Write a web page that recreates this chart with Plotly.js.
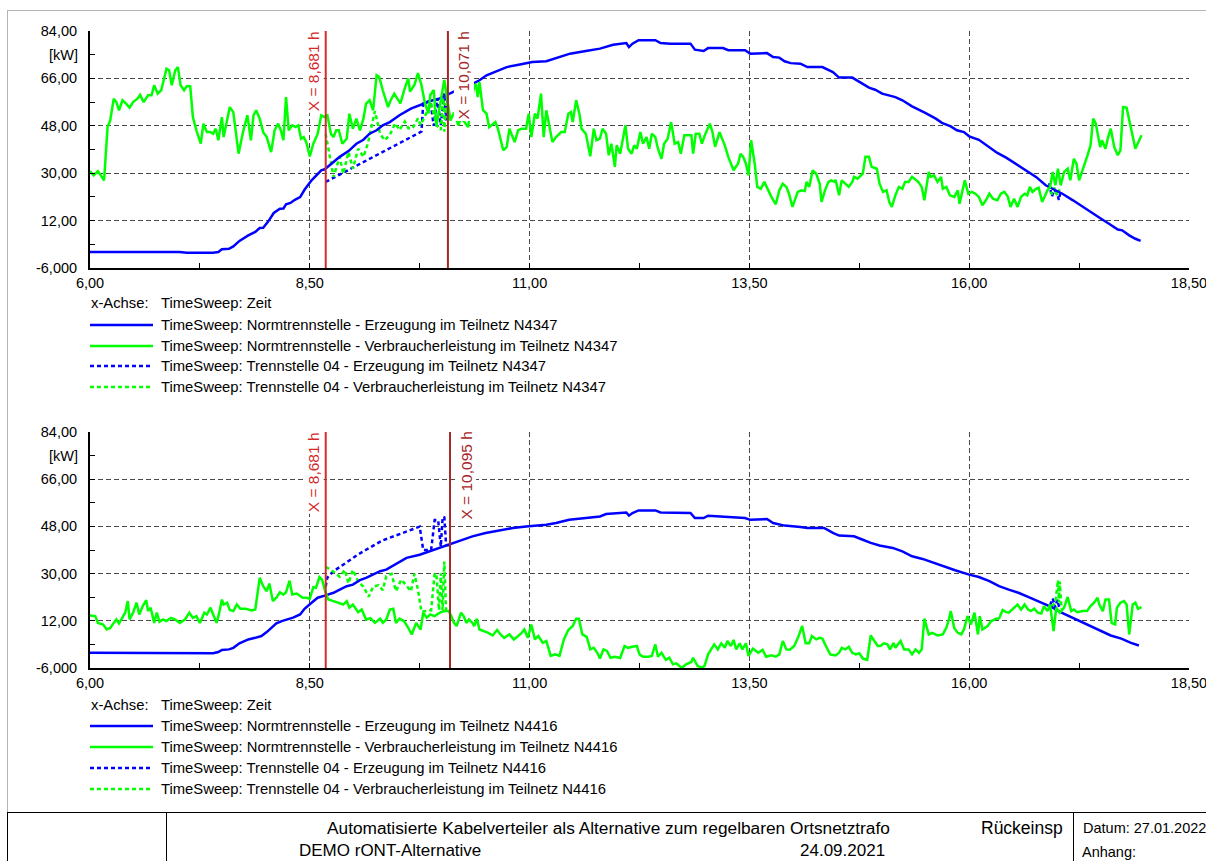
<!DOCTYPE html>
<html>
<head>
<meta charset="utf-8">
<script src="https://cdn.plot.ly/plotly-3.0.1.min.js"></script>
<style>
  html, body { margin: 0; padding: 0; background: #ffffff; }
  #chart { width: 1206px; height: 861px; }
</style>
</head>
<body>
<div id="chart"></div>
<script>
// ---------- axis ticks ----------
const xTickVals = [6, 8.5, 11, 13.5, 16, 18.5];
const xTickText = ['6,00', '8,50', '11,00', '13,50', '16,00', '18,50'];
const yTickVals = [-6, 12, 30, 48, 66, 84];
const yTickText = ['-6,000', '12,00', '30,00', '48,00', '66,00', '84,00'];

// ---------- legend / title block texts ----------
const xAxisCaption = ['x-Achse:', 'TimeSweep: Zeit'];
const namesTop = [
  'TimeSweep: Normtrennstelle - Erzeugung im Teilnetz N4347',
  'TimeSweep: Normtrennstelle - Verbraucherleistung im Teilnetz N4347',
  'TimeSweep: Trennstelle 04 - Erzeugung im Teilnetz N4347',
  'TimeSweep: Trennstelle 04 - Verbraucherleistung im Teilnetz N4347'
];
const namesBottom = [
  'TimeSweep: Normtrennstelle - Erzeugung im Teilnetz N4416',
  'TimeSweep: Normtrennstelle - Verbraucherleistung im Teilnetz N4416',
  'TimeSweep: Trennstelle 04 - Erzeugung im Teilnetz N4416',
  'TimeSweep: Trennstelle 04 - Verbraucherleistung im Teilnetz N4416'
];
const titleRow1 = ['Automatisierte Kabelverteiler als Alternative zum regelbaren Ortsnetztrafo', 'Rückeinsp', 'Datum: 27.01.2022'];
const titleRow2 = ['DEMO rONT-Alternative', '24.09.2021', 'Anhang:'];

// ---------- cursor positions [h] ----------
const cursorsTop = [8.681, 10.071];
const cursorsBottom = [8.681, 10.095];

// ---------- Teilnetz N4347: Normtrennstelle, Erzeugung [kW] ----------
const genTopT = [6.00,7.02,7.10,7.40,7.46,7.50,7.58,7.63,7.70,7.80,7.88,7.93,7.97,8.03,8.09,8.16,8.20,8.23,8.28,8.33,8.39,8.44,8.52,8.58,8.63,8.67,8.71,8.77,8.84,8.94,9.03,9.11,9.18,9.26,9.33,9.41,9.52,9.65,9.79,9.88,9.98,10.13,10.22,10.32,10.43,10.51,10.60,10.74,10.89,11.03,11.19,11.31,11.46,11.64,11.80,11.95,12.10,12.13,12.17,12.24,12.43,12.49,12.60,12.83,12.88,12.98,13.03,13.20,13.26,13.45,13.51,13.70,13.77,13.84,13.90,13.97,14.08,14.16,14.33,14.45,14.52,14.67,14.75,14.86,14.93,15.01,15.16,15.24,15.35,15.43,15.50,15.62,15.69,15.79,15.86,15.94,16.00,16.11,16.23,16.32,16.42,16.53,16.64,16.76,16.87,16.95,17.06,17.18,17.29,17.40,17.50,17.59,17.69,17.74,17.82,17.89,17.95];
const genTopP = [0.1,0.1,-0.2,-0.2,0.1,1.1,1.3,2.2,4.3,6.4,7.7,9.2,9.3,11.8,14.9,16.5,16.6,18.2,18.7,19.9,20.9,23.7,27.3,29.6,31.1,31.5,32.6,34.0,36.2,38.4,41.2,42.7,45.0,46.3,48.2,49.4,52.0,54.5,56.5,57.5,58.4,61.0,62.3,63.4,65.3,67.2,68.4,70.3,71.3,72.2,72.5,73.9,75.4,76.4,77.3,78.8,79.4,77.9,79.2,80.5,80.5,79.4,79.2,79.2,76.9,76.4,77.5,77.5,76.7,76.7,75.4,75.6,74.1,73.9,72.5,71.8,71.6,70.3,70.3,68.4,66.3,66.3,64.6,62.5,61.7,60.2,58.9,57.7,55.4,53.9,52.9,50.7,49.1,47.8,46.3,45.6,44.0,42.7,39.9,37.7,35.9,33.6,31.1,28.6,25.4,24.1,22.2,19.7,17.2,14.9,12.7,10.8,8.6,8.3,6.4,5.1,4.3];

// ---------- Teilnetz N4347: Normtrennstelle, Verbraucherleistung [kW] ----------
const loadTopT = [6.00,6.04,6.09,6.12,6.16,6.20,6.23,6.27,6.30,6.33,6.37,6.41,6.45,6.49,6.54,6.57,6.61,6.66,6.70,6.73,6.77,6.81,6.87,6.90,6.93,6.97,7.00,7.03,7.07,7.10,7.14,7.17,7.21,7.26,7.29,7.33,7.37,7.40,7.43,7.46,7.50,7.52,7.55,7.59,7.63,7.69,7.74,7.79,7.83,7.86,7.89,7.93,7.97,8.01,8.06,8.10,8.14,8.17,8.20,8.23,8.26,8.30,8.34,8.37,8.40,8.43,8.46,8.50,8.54,8.59,8.63,8.67,8.70,8.74,8.77,8.80,8.83,8.87,8.92,8.95,8.99,9.03,9.07,9.11,9.14,9.18,9.22,9.26,9.29,9.33,9.39,9.42,9.46,9.50,9.53,9.58,9.62,9.64,9.69,9.73,9.77,9.81,9.85,9.87,9.91,9.94,9.98,10.01,10.03,10.06,10.10,10.14,10.19,10.22,10.26,10.30,10.36,10.39,10.41,10.43,10.47,10.51,10.54,10.58,10.61,10.64,10.70,10.74,10.77,10.83,10.87,10.91,10.96,10.99,11.02,11.06,11.09,11.13,11.16,11.19,11.23,11.26,11.30,11.36,11.40,11.44,11.47,11.49,11.53,11.57,11.59,11.64,11.69,11.73,11.76,11.80,11.83,11.87,11.90,11.93,11.97,11.99,12.03,12.05,12.09,12.12,12.16,12.19,12.22,12.26,12.29,12.33,12.36,12.39,12.43,12.46,12.50,12.53,12.57,12.61,12.65,12.69,12.72,12.76,12.80,12.84,12.86,12.89,12.93,12.96,13.00,13.05,13.08,13.11,13.16,13.22,13.26,13.32,13.37,13.40,13.43,13.46,13.49,13.52,13.56,13.59,13.63,13.67,13.75,13.80,13.84,13.88,13.92,13.95,13.99,14.05,14.09,14.13,14.15,14.18,14.22,14.26,14.30,14.32,14.36,14.40,14.43,14.47,14.48,14.52,14.55,14.59,14.63,14.67,14.69,14.73,14.79,14.82,14.86,14.89,14.95,14.98,15.02,15.06,15.09,15.12,15.16,15.20,15.24,15.27,15.31,15.35,15.39,15.42,15.46,15.49,15.54,15.56,15.60,15.64,15.68,15.70,15.74,15.78,15.83,15.87,15.89,15.92,15.95,15.99,16.03,16.07,16.11,16.15,16.19,16.23,16.27,16.32,16.36,16.40,16.44,16.47,16.51,16.55,16.59,16.63,16.66,16.69,16.72,16.76,16.79,16.83,16.89,16.92,16.95,16.98,17.01,17.04,17.08,17.12,17.15,17.19,17.22,17.25,17.29,17.34,17.38,17.41,17.44,17.49,17.51,17.55,17.58,17.61,17.65,17.69,17.72,17.75,17.79,17.84,17.89,17.96];
const loadTopP = [30.8,29.2,30.8,29.5,27.3,47.5,50.0,58.3,57.0,53.9,57.7,56.4,54.9,57.0,58.3,59.7,57.0,59.6,59.6,63.4,60.2,61.5,69.7,69.1,63.4,69.1,70.3,63.4,61.5,63.0,63.0,51.3,46.3,41.2,48.8,45.6,45.6,45.0,46.9,42.5,51.3,43.7,48.2,55.1,53.2,37.4,45.6,52.0,42.5,52.0,53.9,50.7,45.6,43.7,38.0,46.3,48.8,46.3,42.5,58.9,46.3,48.2,47.5,48.2,43.1,43.7,41.8,36.4,41.2,45.0,52.0,51.3,52.0,45.0,43.7,46.3,46.3,41.2,43.1,52.6,46.9,50.7,46.3,50.7,56.4,57.7,53.9,67.2,66.5,61.5,55.1,57.7,60.2,58.3,56.5,62.2,66.0,61.0,63.5,68.0,63.5,56.5,52.7,59.7,61.6,47.7,56.5,61.6,65.4,59.0,50.0,53.0,48.2,51.3,49.4,47.5,61.5,64.0,58.9,64.6,53.9,52.6,47.5,48.8,49.4,46.9,38.7,40.0,46.9,41.8,46.3,46.9,46.9,52.6,43.7,52.6,50.7,60.2,43.7,53.9,47.5,41.8,43.7,45.6,45.6,52.6,53.2,49.4,57.7,52.0,46.9,45.0,36.4,46.9,42.5,43.1,46.9,45.0,36.8,41.2,32.4,40.6,37.4,41.2,48.2,39.3,37.4,40.6,39.3,45.6,41.2,43.7,39.3,45.0,43.7,39.3,35.5,41.2,43.1,49.4,41.2,41.8,37.4,44.4,44.4,44.4,37.4,45.0,45.0,41.2,45.0,48.8,45.6,40.0,45.6,40.6,36.2,31.1,33.6,37.4,36.2,33.6,29.2,42.5,33.6,24.8,24.1,26.7,21.0,18.2,23.5,26.0,24.8,22.2,17.2,22.9,23.5,23.2,26.7,24.8,31.1,29.8,26.0,19.1,23.5,26.7,27.3,26.7,27.5,21.6,27.3,26.0,24.8,26.7,28.6,27.9,29.8,36.2,36.2,32.4,31.7,26.0,22.9,23.5,19.1,17.2,21.6,24.8,24.1,26.7,26.7,28.6,27.3,26.7,24.8,19.7,30.5,28.6,29.2,26.7,28.6,24.1,24.8,21.6,21.0,23.5,18.4,22.9,27.3,22.2,22.9,22.2,21.0,17.8,19.7,22.2,20.3,19.7,22.2,22.9,21.0,17.2,20.3,17.2,21.0,22.2,21.6,24.8,22.9,24.1,24.5,19.1,23.5,24.8,30.5,25.4,31.7,25.4,30.5,31.7,27.3,35.5,33.6,27.3,31.1,36.2,40.6,50.7,48.8,39.9,42.5,39.3,43.7,46.9,39.9,36.8,38.7,55.1,54.9,46.9,39.3,44.4];

// ---------- Teilnetz N4347: Trennstelle 04 (null = no value) ----------
const altGenTopT = [8.68,8.80,8.90,9.00,9.10,9.20,9.30,9.40,9.50,9.60,9.70,9.77,9.79,9.87,9.91,9.95,9.99,10.03,10.05,10.07,null,16.91,16.94,16.97,17.00,17.02,17.04];
const altGenTopP = [26.7,28.8,30.5,32.2,34.0,35.8,37.6,39.3,41.0,42.8,44.5,45.8,56.5,57.6,48.0,58.4,48.3,60.3,50.0,60.8,null,26.2,21.1,23.6,22.4,19.8,23.3];
const altLoadTopT = [8.68,8.71,8.77,8.84,8.88,8.94,8.99,9.05,9.11,9.16,9.24,9.30,9.35,9.41,9.47,9.52,9.58,9.62,9.67,9.73,9.76,9.88,9.94,9.99,10.02,10.03,10.05,10.07,null,16.90,16.94,16.97,17.00,17.03];
const altLoadTopP = [45.0,40.0,28.6,36.2,29.8,38.0,31.7,39.3,36.2,41.2,53.5,45.0,42.5,44.5,48.9,46.4,49.6,47.1,47.1,50.8,48.3,56.5,48.3,46.4,59.7,45.8,56.5,52.0,null,25.5,22.0,24.5,21.5,24.0];

// ---------- Teilnetz N4416: Normtrennstelle, Erzeugung [kW] ----------
const genBotT = [6.00,7.02,7.10,7.40,7.46,7.50,7.58,7.63,7.70,7.80,7.88,7.95,8.01,8.06,8.12,8.18,8.23,8.31,8.39,8.44,8.52,8.59,8.67,8.77,8.84,8.92,8.99,9.07,9.14,9.22,9.30,9.37,9.45,9.52,9.60,9.75,9.90,10.05,10.20,10.35,10.50,10.66,10.81,10.96,11.11,11.19,11.30,11.45,11.64,11.80,11.87,12.10,12.13,12.17,12.24,12.43,12.49,12.83,12.88,12.98,13.03,13.45,13.51,13.70,13.77,13.90,14.08,14.16,14.35,14.45,14.52,14.69,14.79,14.88,14.98,15.13,15.24,15.35,15.47,15.62,15.71,15.84,16.00,16.11,16.23,16.34,16.45,16.56,16.67,16.83,16.95,17.05,17.17,17.28,17.39,17.50,17.61,17.73,17.84,17.93];
const genBotP = [-0.2,-0.2,-0.4,-0.4,0.1,0.9,1.1,1.7,3.4,4.9,5.5,6.2,7.7,9.3,11.0,11.9,12.3,13.2,14.4,16.6,18.9,20.8,21.6,22.7,23.9,25.2,25.8,27.5,28.4,29.6,30.9,31.5,33.0,34.3,36.0,37.2,38.9,40.7,42.3,44.2,45.5,46.5,47.4,48.0,48.3,48.6,49.3,50.5,51.2,51.8,52.7,53.3,52.1,53.1,54.1,54.1,53.3,53.1,51.2,51.2,52.1,51.2,50.5,50.8,49.3,48.3,47.8,47.4,47.4,45.5,44.5,44.2,42.9,41.7,40.7,39.8,38.5,36.6,35.6,33.8,32.8,31.3,29.6,28.7,27.1,25.2,23.9,22.7,21.1,18.9,17.0,15.1,13.2,11.5,10.0,8.1,6.4,5.2,3.6,2.6];

// ---------- Teilnetz N4416: Normtrennstelle, Verbraucherleistung [kW] ----------
const loadBotT = [6.00,6.06,6.09,6.15,6.19,6.23,6.27,6.30,6.33,6.37,6.40,6.43,6.45,6.49,6.53,6.56,6.60,6.64,6.66,6.69,6.73,6.76,6.79,6.83,6.87,6.92,6.97,7.02,7.08,7.13,7.17,7.21,7.25,7.30,7.33,7.37,7.41,7.44,7.47,7.50,7.52,7.56,7.59,7.63,7.67,7.71,7.77,7.84,7.88,7.93,7.97,8.01,8.04,8.08,8.12,8.16,8.20,8.23,8.27,8.30,8.35,8.39,8.42,8.46,8.50,8.54,8.57,8.61,8.64,8.68,8.71,8.77,8.82,8.88,8.92,8.95,8.99,9.05,9.09,9.14,9.19,9.24,9.30,9.33,9.37,9.41,9.45,9.48,9.52,9.57,9.62,9.66,9.71,9.76,9.79,9.83,9.87,9.92,9.96,9.98,10.03,10.08,10.11,10.14,10.17,10.22,10.25,10.28,10.31,10.35,10.37,10.40,10.43,10.48,10.53,10.58,10.63,10.67,10.71,10.77,10.82,10.87,10.91,10.94,10.98,11.02,11.06,11.10,11.15,11.19,11.24,11.29,11.34,11.39,11.44,11.49,11.53,11.56,11.60,11.65,11.69,11.73,11.77,11.80,11.84,11.88,11.92,11.97,12.03,12.08,12.12,12.17,12.22,12.25,12.29,12.35,12.39,12.43,12.46,12.50,12.55,12.59,12.63,12.67,12.73,12.78,12.84,12.86,12.91,12.96,12.99,13.03,13.07,13.10,13.14,13.18,13.22,13.25,13.29,13.32,13.35,13.39,13.42,13.46,13.49,13.54,13.60,13.65,13.69,13.75,13.80,13.84,13.88,13.92,13.96,14.01,14.06,14.10,14.14,14.18,14.21,14.26,14.30,14.33,14.37,14.42,14.48,14.52,14.55,14.59,14.63,14.67,14.71,14.75,14.79,14.84,14.88,14.92,14.96,14.99,15.03,15.07,15.10,15.14,15.16,15.22,15.26,15.31,15.35,15.39,15.43,15.46,15.49,15.54,15.58,15.64,15.70,15.74,15.77,15.79,15.83,15.87,15.91,15.94,15.98,16.02,16.06,16.10,16.12,16.15,16.21,16.25,16.31,16.34,16.38,16.42,16.45,16.49,16.55,16.59,16.63,16.67,16.70,16.74,16.78,16.82,16.85,16.89,16.92,16.96,16.99,17.03,17.08,17.12,17.16,17.19,17.23,17.29,17.34,17.38,17.42,17.46,17.48,17.52,17.55,17.59,17.62,17.66,17.68,17.72,17.76,17.79,17.82,17.86,17.89,17.92,17.96];
const loadBotP = [14.0,13.8,11.2,10.6,8.7,9.3,11.2,12.5,11.0,13.1,15.1,19.5,12.5,15.1,18.9,14.4,17.6,19.9,15.7,17.0,11.2,15.1,11.6,12.5,11.9,13.1,12.5,11.2,12.5,15.1,13.1,13.8,11.2,15.1,14.4,17.0,13.8,11.2,15.1,20.1,18.2,18.9,16.1,15.7,18.2,16.6,16.6,15.9,16.3,28.4,25.2,23.3,26.2,19.5,20.8,22.9,22.0,22.9,27.3,22.0,22.4,21.4,20.8,20.8,20.4,24.8,24.6,28.7,27.7,22.7,20.1,19.5,18.9,18.2,19.5,17.0,18.2,15.3,16.3,12.5,13.0,11.2,12.8,11.2,12.5,16.3,16.6,11.2,12.8,11.9,9.3,6.8,11.2,8.7,15.1,13.2,14.4,13.8,14.7,15.1,15.7,15.7,13.8,11.2,10.0,15.1,13.8,11.2,12.5,11.2,10.0,12.8,8.7,8.1,7.4,6.4,8.5,6.8,5.5,6.8,4.9,6.2,7.4,8.7,5.5,10.6,4.9,6.2,3.6,4.3,-1.4,-0.8,-1.4,4.9,8.5,10.0,12.8,12.8,6.8,5.9,1.1,1.7,-0.2,-2.4,1.1,0.5,-2.1,-1.7,-2.2,2.4,1.7,2.1,2.4,-0.8,-1.7,-1.7,-1.4,3.0,-1.7,-0.2,-2.9,-2.1,-4.6,-4.2,-6.0,-4.6,-3.7,-2.1,-5.2,-5.9,-5.2,-0.8,1.7,3.0,1.1,3.4,1.7,4.3,2.4,4.7,1.1,3.4,1.1,3.4,-1.4,1.4,-0.2,0.9,-1.7,-1.2,-1.7,-0.8,4.3,1.1,1.0,2.4,6.2,10.0,3.4,3.4,6.2,4.9,5.5,5.2,2.4,-0.8,-1.2,-0.2,1.7,1.1,2.1,-0.2,-0.8,-0.4,-2.4,-2.9,6.4,4.3,2.4,2.4,3.4,3.0,1.1,3.6,1.7,4.3,1.1,1.1,-0.8,1.1,-0.2,1.1,12.8,6.8,7.4,6.4,6.8,9.3,12.5,15.7,9.3,7.4,6.8,8.7,13.8,10.6,15.1,6.8,13.8,8.7,10.0,11.9,12.8,12.9,16.1,15.3,15.1,16.3,18.2,16.3,18.2,16.3,15.7,16.6,15.1,14.8,17.6,15.7,18.2,8.1,17.0,15.1,17.0,21.1,15.7,16.3,15.3,15.7,15.7,17.6,18.9,20.8,18.2,15.7,20.1,20.1,11.2,10.6,17.0,18.9,19.5,18.2,6.8,18.2,18.9,16.6,17.2];

// ---------- Teilnetz N4416: Trennstelle 04 (null = no value) ----------
const altGenBotT = [8.68,8.70,8.77,8.86,8.95,9.05,9.14,9.24,9.33,9.42,9.50,9.60,9.68,9.75,9.79,9.88,9.92,9.96,9.99,10.01,10.03,10.05,10.09,null,16.92,16.95,16.98,17.00,17.03];
const altGenBotP = [25.0,28.5,30.9,33.0,35.3,37.3,39.1,41.0,42.7,43.8,44.8,46.0,47.0,47.9,39.0,39.0,50.4,50.4,40.3,51.1,51.7,40.9,40.8,null,18.0,20.5,17.0,20.0,16.5];
const altLoadBotT = [8.68,8.72,8.77,8.84,8.90,8.94,8.99,9.05,9.11,9.17,9.22,9.28,9.33,9.37,9.43,9.48,9.54,9.59,9.65,9.69,9.73,9.77,9.88,9.92,9.94,9.97,9.99,10.01,10.03,10.05,10.09,null,16.94,16.98,17.01,17.02,17.03,17.05];
const altLoadBotP = [32.6,31.8,30.7,28.8,31.4,26.3,31.4,26.9,25.0,21.2,25.0,25.6,23.7,29.0,29.9,23.3,27.7,25.8,23.3,29.9,23.9,15.5,16.0,30.1,29.6,16.1,30.1,16.0,34.6,16.1,16.5,null,17.5,19.0,27.5,19.0,27.0,16.5];

// ---------- styling ----------
const FONT = 'Liberation Sans, Arial, Helvetica, sans-serif';
const BLUE = '#0000ff';
const GREEN = '#00ff00';
const CURSOR_COLORS = ['#d42a2a', '#a52626'];
const W = 1206, H = 861;
const px = v => v / W;          // pixel -> paper x
const py = v => 1 - v / H;      // pixel -> paper y

function series(x, y, xa, ya, color, dotted, name) {
  return {
    type: 'scatter', mode: 'lines', x: x, y: y, xaxis: xa, yaxis: ya, name: name,
    connectgaps: false, hoverinfo: 'skip', showlegend: false,
    line: { color: color, width: 2.5, dash: dotted ? '4px,3px' : 'solid' }
  };
}

const traces = [
  series(altGenTopT, altGenTopP, 'x', 'y', BLUE, true, namesTop[2]),
  series(altLoadTopT, altLoadTopP, 'x', 'y', GREEN, true, namesTop[3]),
  series(genTopT, genTopP, 'x', 'y', BLUE, false, namesTop[0]),
  series(loadTopT, loadTopP, 'x', 'y', GREEN, false, namesTop[1]),
  series(altGenBotT, altGenBotP, 'x2', 'y2', BLUE, true, namesBottom[2]),
  series(altLoadBotT, altLoadBotP, 'x2', 'y2', GREEN, true, namesBottom[3]),
  series(genBotT, genBotP, 'x2', 'y2', BLUE, false, namesBottom[0]),
  series(loadBotT, loadBotP, 'x2', 'y2', GREEN, false, namesBottom[1])
];

function xAxis(anchor) {
  return {
    anchor: anchor, domain: [px(90), px(1189)], range: [6, 18.5],
    tickmode: 'array', tickvals: xTickVals, ticktext: xTickText,
    ticks: 'inside', ticklen: 5, tickcolor: '#000', tickwidth: 1,
    ticklabelstandoff: 1, ticklabeloverflow: 'allow',
    minor: { tickmode: 'linear', tick0: 6, dtick: 1.25, ticks: 'inside', ticklen: 5, tickcolor: '#000', showgrid: false },
    showgrid: true, gridcolor: '#4a4a4a', gridwidth: 1, griddash: '5px,3px',
    showline: true, linecolor: '#000', linewidth: 2, zeroline: false, fixedrange: true,
    tickfont: { family: FONT, size: 14.5, color: '#000' }
  };
}
function yAxis(anchor, top, bottom) {
  return {
    anchor: anchor, domain: [py(bottom), py(top)], range: [-6, 84],
    tickmode: 'array', tickvals: yTickVals, ticktext: yTickText,
    ticks: 'inside', ticklen: 5, tickcolor: '#000', tickwidth: 1,
    ticklabelstandoff: 8, ticklabeloverflow: 'allow',
    minor: { tickmode: 'linear', tick0: -6, dtick: 9, ticks: 'inside', ticklen: 5, tickcolor: '#000', showgrid: false },
    showgrid: true, gridcolor: '#4a4a4a', gridwidth: 1, griddash: '5px,3px',
    showline: true, linecolor: '#000', linewidth: 2, zeroline: false, fixedrange: true,
    tickfont: { family: FONT, size: 14.5, color: '#000' }
  };
}

const shapes = [];
const annotations = [];

// cursor lines and their rotated labels
function cursors(list, xref, yref) {
  list.forEach((c, i) => {
    const color = CURSOR_COLORS[i];
    shapes.push({ type: 'line', xref: xref, yref: yref + ' domain', x0: c, x1: c, y0: 0, y1: 1,
      line: { color: color, width: 2 }, layer: 'above' });
    const left = i === 0;
    annotations.push({
      xref: xref, yref: yref + ' domain', x: c, y: 1,
      xanchor: left ? 'right' : 'left', yanchor: 'top',
      xshift: left ? -2 : 5, yshift: 2,
      text: 'X = ' + c.toFixed(3).replace('.', ',') + ' h', textangle: -90,
      font: { family: FONT, size: 15.5, color: color },
      bgcolor: '#ffffff', borderpad: 1, showarrow: false
    });
  });
}
cursors(cursorsTop, 'x', 'y');
cursors(cursorsBottom, 'x2', 'y2');

// unit labels
['y', 'y2'].forEach(ya => {
  annotations.push({ xref: 'paper', yref: ya, x: px(80), y: 75, xanchor: 'right', yanchor: 'middle',
    text: '[kW]', showarrow: false, font: { family: FONT, size: 14.5, color: '#000' } });
});

// legend blocks below each diagram
function legendBlock(names, captionY, rowYs) {
  annotations.push({ xref: 'paper', yref: 'paper', x: px(89), y: py(captionY), xanchor: 'left', yanchor: 'middle',
    text: xAxisCaption[0], showarrow: false, font: { family: FONT, size: 14.8, color: '#000' } });
  annotations.push({ xref: 'paper', yref: 'paper', x: px(159), y: py(captionY), xanchor: 'left', yanchor: 'middle',
    text: xAxisCaption[1], showarrow: false, font: { family: FONT, size: 14.8, color: '#000' } });
  const styles = [[BLUE, 'solid'], [GREEN, 'solid'], [BLUE, '4px,3px'], [GREEN, '4px,3px']];
  names.forEach((n, i) => {
    shapes.push({ type: 'line', xref: 'paper', yref: 'paper', x0: px(90), x1: px(153), y0: py(rowYs[i]), y1: py(rowYs[i]),
      line: { color: styles[i][0], width: 2.5, dash: styles[i][1] } });
    annotations.push({ xref: 'paper', yref: 'paper', x: px(159), y: py(rowYs[i]), xanchor: 'left', yanchor: 'middle',
      text: n, showarrow: false, font: { family: FONT, size: 14.8, color: '#000' } });
  });
}
legendBlock(namesTop, 303, [325, 346, 366, 387]);
legendBlock(namesBottom, 705, [726, 747, 768, 789]);

// outer frame and title block
const frameLine = (x0, y0, x1, y1, color) => shapes.push({ type: 'line', xref: 'paper', yref: 'paper',
  x0: px(x0), x1: px(x1), y0: py(y0), y1: py(y1), line: { color: color, width: 1 } });
frameLine(7, 10.5, 1206, 10.5, '#b4b4b4');
frameLine(7.5, 10, 7.5, 812, '#b4b4b4');
frameLine(7.5, 812.5, 1206, 812.5, '#000');
frameLine(7.5, 812, 7.5, 861, '#000');
frameLine(166.5, 812, 166.5, 861, '#000');
frameLine(1073.5, 812, 1073.5, 861, '#000');

// title block: [left px, font size] per cell
const titleCells1 = [[327, 17.3], [981, 17.5], [1083, 14.5]];
const titleCells2 = [[300, 17], [801, 17], [1083, 14.5]];
titleRow1.forEach((t, i) => annotations.push({ xref: 'paper', yref: 'paper', x: px(titleCells1[i][0] - 2), y: py(828),
  xanchor: 'left', yanchor: 'middle', text: t, showarrow: false,
  font: { family: FONT, size: titleCells1[i][1], color: '#000' } }));
titleRow2.forEach((t, i) => annotations.push({ xref: 'paper', yref: 'paper', x: px(titleCells2[i][0] - 2), y: py(861),
  xanchor: 'left', yanchor: 'bottom', borderpad: 0, text: t, showarrow: false,
  font: { family: FONT, size: titleCells2[i][1], color: '#000' } }));

const layout = {
  width: W, height: H, margin: { l: 0, r: 0, t: 0, b: 0 },
  paper_bgcolor: '#ffffff', plot_bgcolor: '#ffffff', showlegend: false,
  font: { family: FONT, size: 14.5, color: '#000' },
  xaxis: xAxis('y'), yaxis: yAxis('x', 31, 268),
  xaxis2: xAxis('y2'), yaxis2: yAxis('x2', 432, 668),
  shapes: shapes, annotations: annotations
};

Plotly.newPlot('chart', traces, layout, { staticPlot: true, displayModeBar: false });
</script>
</body>
</html>
